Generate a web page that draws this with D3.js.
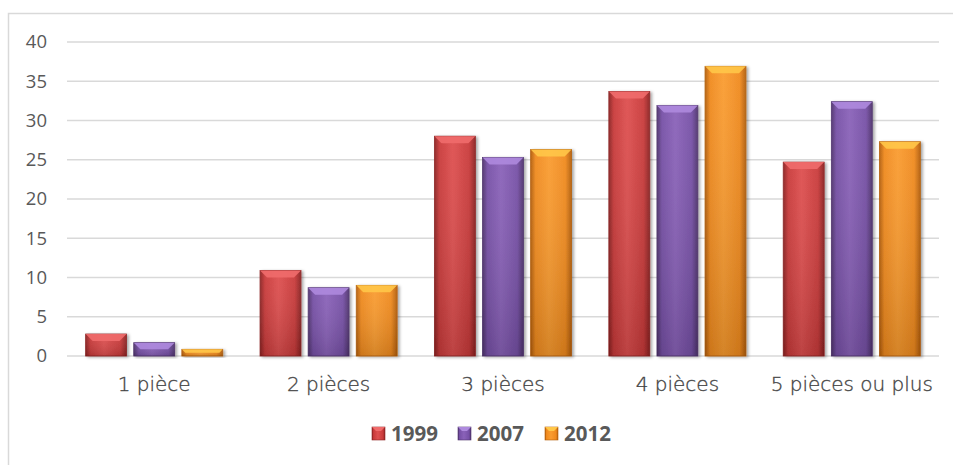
<!DOCTYPE html>
<html>
<head>
<meta charset="utf-8">
<script src="https://cdn.jsdelivr.net/npm/d3@7"></script>
<style>
  body { margin: 0; background: #fff; }
  svg { display: block; }
</style>
</head>
<body>
<svg id="chart"></svg>
<script>
const categories = ['1 pièce', '2 pièces', '3 pièces', '4 pièces', '5 pièces ou plus']
const years = ['1999', '2007', '2012']
const values1999 = [2.8, 10.9, 28.0, 33.7, 24.7]
const values2007 = [1.7, 8.7, 25.3, 31.9, 32.4]
const values2012 = [0.85, 9.0, 26.3, 36.9, 27.3]
const yTicks = [0, 5, 10, 15, 20, 25, 30, 35, 40]

const width = 953
const height = 465
const plotLeft = 67, plotRight = 939, plotTop = 42, plotBottom = 356

const colors = {
  '1999': { base: '#c93a3a', light: '#de4f4f', dark: '#8c2222', top: '#f06b6b' },
  '2007': { base: '#7650a6', light: '#8a62b9', dark: '#4f336d', top: '#ae8ade' },
  '2012': { base: '#f08a1e', light: '#fa9c30', dark: '#b35e0b', top: '#ffc748' }
}

const series = [values1999, values2007, values2012]
const rows = []
categories.forEach((c, i) => {
  years.forEach((yr, j) => rows.push({ cat: c, year: yr, value: series[j][i] }))
})

const svg = d3.select('#chart').attr('width', width).attr('height', height)
const defs = svg.append('defs')

years.forEach(yr => {
  const g = defs.append('linearGradient').attr('id', 'grad' + yr)
    .attr('x1', 0).attr('x2', 1).attr('y1', 0).attr('y2', 0)
  g.append('stop').attr('offset', '0%').attr('stop-color', colors[yr].dark)
  g.append('stop').attr('offset', '12%').attr('stop-color', colors[yr].base)
  g.append('stop').attr('offset', '45%').attr('stop-color', colors[yr].light)
  g.append('stop').attr('offset', '85%').attr('stop-color', colors[yr].base)
  g.append('stop').attr('offset', '100%').attr('stop-color', colors[yr].dark)
  const v = defs.append('linearGradient').attr('id', 'vshade' + yr)
    .attr('x1', 0).attr('x2', 0).attr('y1', 0).attr('y2', 1)
  v.append('stop').attr('offset', '0%').attr('stop-color', '#fff').attr('stop-opacity', 0.05)
  v.append('stop').attr('offset', '100%').attr('stop-color', '#000').attr('stop-opacity', 0.15)
})

const shadow = defs.append('filter').attr('id', 'shadow')
  .attr('x', '-20%').attr('y', '-20%').attr('width', '150%').attr('height', '140%')
shadow.append('feDropShadow').attr('dx', 2).attr('dy', 1).attr('stdDeviation', 1.6)
  .attr('flood-color', '#000').attr('flood-opacity', 0.35)

// chart border
svg.append('rect').attr('x', 8.5).attr('y', 13.5).attr('width', 970).attr('height', 470)
  .attr('fill', 'none').attr('stroke', '#d9d9d9').attr('stroke-width', 1.5)

const x0 = d3.scaleBand().domain(categories).range([plotLeft, plotRight])
  .paddingInner(0.214).paddingOuter(0.107)
const x1 = d3.scaleBand().domain(years).range([0, x0.bandwidth()]).paddingInner(0.15)
const y = d3.scaleLinear().domain([0, 40]).range([plotBottom, plotTop])

// gridlines
svg.append('g').selectAll('line').data(yTicks).join('line')
  .attr('x1', plotLeft).attr('x2', plotRight)
  .attr('y1', d => y(d)).attr('y2', d => y(d))
  .attr('stroke', '#d9d9d9').attr('stroke-width', 1.5)

// y axis labels
const yAxis = d3.axisLeft(y).tickValues(yTicks).tickSize(0).tickPadding(0)
svg.append('g').attr('transform', `translate(${plotLeft - 20},0)`).call(yAxis)
  .call(g => g.select('.domain').remove())
  .selectAll('text')
  .attr('font-family', 'Open Sans, sans-serif').attr('font-size', 18.5).attr('fill', '#595959')

// x axis labels (thin, wide face)
const xAxis = d3.axisBottom(x0).tickSize(0).tickPadding(0)
svg.append('g').attr('transform', `translate(0,${plotBottom + 21})`).call(xAxis)
  .call(g => g.select('.domain').remove())
  .selectAll('text')
  .attr('font-family', 'DejaVu Sans, sans-serif').attr('font-weight', 200)
  .attr('font-size', 20).attr('fill', '#333')
  .attr('stroke', '#555').attr('stroke-width', 0.35)

// bars
const bars = svg.append('g').selectAll('g').data(rows).join('g')
  .attr('transform', d => `translate(${x0(d.cat) + x1(d.year)},0)`)
  .attr('filter', 'url(#shadow)')

const bw = x1.bandwidth()
bars.append('rect')
  .attr('x', 0).attr('y', d => y(d.value))
  .attr('width', bw).attr('height', d => y(0) - y(d.value))
  .attr('fill', d => `url(#grad${d.year})`)
  .attr('stroke', d => colors[d.year].dark).attr('stroke-width', 0.8)
bars.append('rect')
  .attr('x', 0).attr('y', d => y(d.value))
  .attr('width', bw).attr('height', d => y(0) - y(d.value))
  .attr('fill', d => `url(#vshade${d.year})`)
// bevelled top
bars.append('polygon')
  .attr('points', d => {
    const t = y(d.value)
    const h = Math.min(7, (y(0) - t) * 0.5)
    const i = Math.min(7, h)
    return `0,${t} ${bw},${t} ${bw - i},${t + h} ${i},${t + h}`
  })
  .attr('fill', d => colors[d.year].top).attr('opacity', 0.9)

// legend
const legendX = [372, 458, 545]
const legend = svg.append('g').selectAll('g').data(years).join('g')
  .attr('transform', (d, i) => `translate(${legendX[i]},427)`)
legend.append('rect').attr('width', 13).attr('height', 13)
  .attr('fill', d => `url(#grad${d})`).attr('stroke', d => colors[d].dark).attr('stroke-width', 0.6)
legend.append('polygon').attr('points', '0,0 13,0 9,4 4,4').attr('fill', d => colors[d].top)
legend.append('text').attr('x', 19).attr('y', 14)
  .attr('font-family', 'Open Sans, sans-serif').attr('font-weight', 'bold').attr('font-size', 20.5)
  .attr('fill', '#595959').text(d => d)
</script>
</body>
</html>
